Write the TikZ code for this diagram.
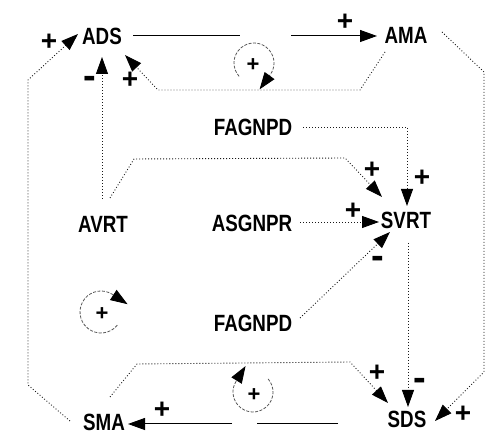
\documentclass[tikz,border=0pt]{standalone}
\usepackage{fontspec}
\setmainfont[FakeStretch=0.8]{Liberation Sans}
\newfontfamily\signfont{Liberation Sans}
\usetikzlibrary{arrows.meta}
\tikzset{
  var/.style={font=\bfseries\fontsize{23.5}{26}\selectfont, inner sep=0pt},
  dotline/.style={line width=0.9pt, dash pattern=on 0.9pt off 2.1pt, black!90},
  solidline/.style={line width=1pt, black},
  loopline/.style={line width=0.8pt, dash pattern=on 3pt off 1.5pt, black!65},
  tip/.style={-{Triangle[length=17pt,width=12pt,black]}},
  sgn/.style={font=\signfont\bfseries\fontsize{28}{30}\selectfont, inner sep=0pt},
  msgn/.style={font=\signfont\bfseries\fontsize{38}{40}\selectfont, inner sep=0pt},
  lsgn/.style={font=\signfont\bfseries\fontsize{22}{24}\selectfont, inner sep=0pt},
}
\begin{document}
\begin{tikzpicture}[x=1pt,y=1pt]
\fill[white] (0,0) rectangle (496,446);
\useasboundingbox (0,0) rectangle (496,446);
% variables
\node[var] (ADS) at (102,410) {ADS};
\node[var] (AMA) at (406,411) {AMA};
\node[var] (FAG1) at (253,319) {FAGNPD};
\node[var] (AVRT) at (103,222) {AVRT};
\node[var] (ASG) at (252,223) {ASGNPR};
\node[var] (SVRT) at (406,226) {SVRT};
\node[var] (FAG2) at (253,123) {FAGNPD};
\node[var] (SMA) at (104,24) {SMA};
\node[var] (SDS) at (407,27) {SDS};
% connectors
\draw[solidline,tip,dash pattern=on 107pt off 51pt on 300pt] ([shift={(31,0)}]ADS.center) -- ([shift={(-29,-1)}]AMA.center);
\draw[dotline,tip] ([shift={(-21,-17)}]AMA.center) -- (360,356) -- (158,356) -- ([shift={(23,-19)}]ADS.center);
\draw[dotline,tip] ([shift={(-34,1)}]SMA.center) -- (28,61) -- (28,366) -- ([shift={(-24,2)}]ADS.center);
\draw[dotline,tip] ([shift={(-1,25)}]AVRT.center) -- ([shift={(0,-21)}]ADS.center);
\draw[dotline,tip] ([shift={(7,26)}]AVRT.center) -- (134,287) -- (345,288) -- ([shift={(-24,23)}]SVRT.center);
\draw[dotline,tip] ([shift={(50,0)}]FAG1.center) -- (407,319) -- ([shift={(1,14)}]SVRT.center);
\draw[dotline,tip] ([shift={(48,1)}]ASG.center) -- ([shift={(-27,-2)}]SVRT.center);
\draw[dotline,tip] ([shift={(47,5)}]FAG2.center) -- ([shift={(-16,-12)}]SVRT.center);
\draw[dotline,tip] ([shift={(2,-23)}]SVRT.center) -- ([shift={(1,12)}]SDS.center);
\draw[dotline,tip] ([shift={(36,3)}]AMA.center) -- (484,374) -- (484,74) -- ([shift={(28,-2)}]SDS.center);
\draw[dotline,tip] ([shift={(6,25)}]SMA.center) -- (137,82) -- (350,84) -- ([shift={(-19,16)}]SDS.center);
\draw[solidline,tip,dash pattern=on 81pt off 25pt on 300pt] ([shift={(-69,-5)}]SDS.center) -- ([shift={(24,-2)}]SMA.center);
% polarity signs
\node[sgn] (s1) at (345,424) {+};
\node[sgn] (s2) at (130,366) {+};
\node[sgn] (s3) at (49,404) {+};
\node[msgn] (s4) at (90,364) {-};
\node[sgn] (s5) at (372,276) {+};
\node[sgn] (s6) at (422,268) {+};
\node[sgn] (s7) at (353,235) {+};
\node[msgn] (s8) at (378,184) {-};
\node[msgn] (s9) at (420,62) {-};
\node[sgn] (s10) at (463,32) {+};
\node[sgn] (s11) at (377,73) {+};
\node[sgn] (s12) at (162,36) {+};
% loops
\draw[loopline,tip] (254,383) ++(222:20) arc[start angle=222,end angle=-36,radius=20] -- ++(-10.6,-14.6);
\node[lsgn] (l1) at (253,381) {+};
\draw[loopline,tip] (101,134) ++(-39:21) arc[start angle=-39,end angle=-303,radius=21] -- ++(15.1,-9.8);
\node[lsgn] (l2) at (102,132) {+};
\draw[loopline,tip] (253,54) ++(41:20) arc[start angle=41,end angle=-212,radius=20] -- ++(9.5,15.3);
\node[lsgn] (l3) at (254,51) {+};
\end{tikzpicture}
\end{document}
